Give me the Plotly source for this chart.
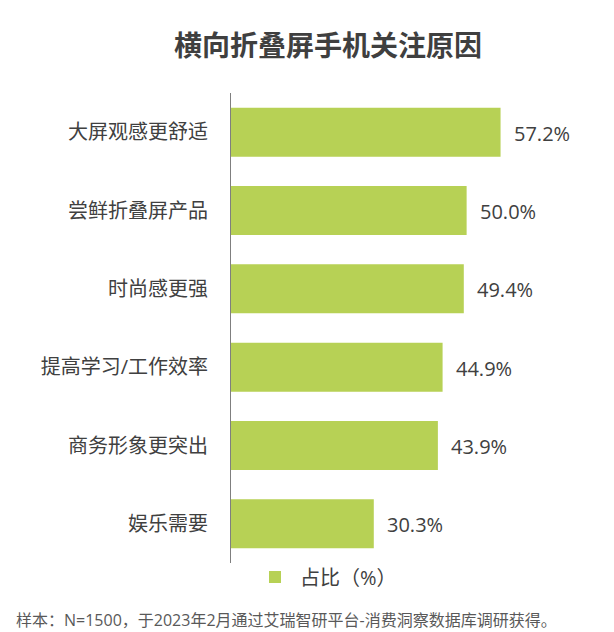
import plotly.graph_objects as go

# 数据
categories = ['大屏观感更舒适', '尝鲜折叠屏产品', '时尚感更强', '提高学习/工作效率', '商务形象更突出', '娱乐需要']
shares = [57.2, 50.0, 49.4, 44.9, 43.9, 30.3]
series_name = '占比（%）'
title_text = '横向折叠屏手机关注原因'
note_text = '样本：N=1500，于2023年2月通过艾瑞智研平台-消费洞察数据库调研获得。'

bar_color = '#b7d155'
txt_color = '#404040'
font_family = 'Open Sans, Noto Sans CJK SC, sans-serif'

fig = go.Figure()
fig.add_trace(go.Bar(x=shares, y=categories, orientation='h', name=series_name,
                     marker=dict(color=bar_color, line=dict(width=0)),
                     hoverinfo='skip'))

# 数值标签
for c, v in zip(categories, shares):
    fig.add_annotation(x=v, y=c, text='%.1f%%' % v, showarrow=False,
                       xanchor='left', yanchor='middle', xshift=11, yshift=-1,
                       font=dict(size=20, color=txt_color))

# 注释
fig.add_annotation(x=-0.575, y=-0.1213, xref='paper', yref='paper', text=note_text,
                   showarrow=False, xanchor='left', yanchor='middle',
                   font=dict(size=16, color='#595959'))

fig.update_layout(
    title=dict(text='<b>' + title_text + '</b>', x=0.521, xref='container', xanchor='center',
               y=1 - 38.5 / 632, yref='container', yanchor='middle',
               font=dict(size=28, color='#3f3f3f')),
    xaxis=dict(range=[0, 80], visible=False, fixedrange=True),
    yaxis=dict(autorange='reversed', showline=True, linecolor='#7f7f7f', linewidth=1,
               ticks='', showgrid=False, zeroline=False, ticklabelstandoff=18,
               tickfont=dict(size=20, color=txt_color)),
    bargap=0.375,
    showlegend=True,
    legend=dict(orientation='h', x=(242 - 223) / 377, xanchor='left',
                y=-(569 - 555) / 470, yanchor='middle',
                font=dict(size=20, color=txt_color), itemwidth=40),
    margin=dict(l=223, r=14, t=85, b=77),
    width=614, height=632,
    autosize=False,
    plot_bgcolor='white', paper_bgcolor='white',
    font=dict(family=font_family, color=txt_color),
)

fig.write_html('out.html')
